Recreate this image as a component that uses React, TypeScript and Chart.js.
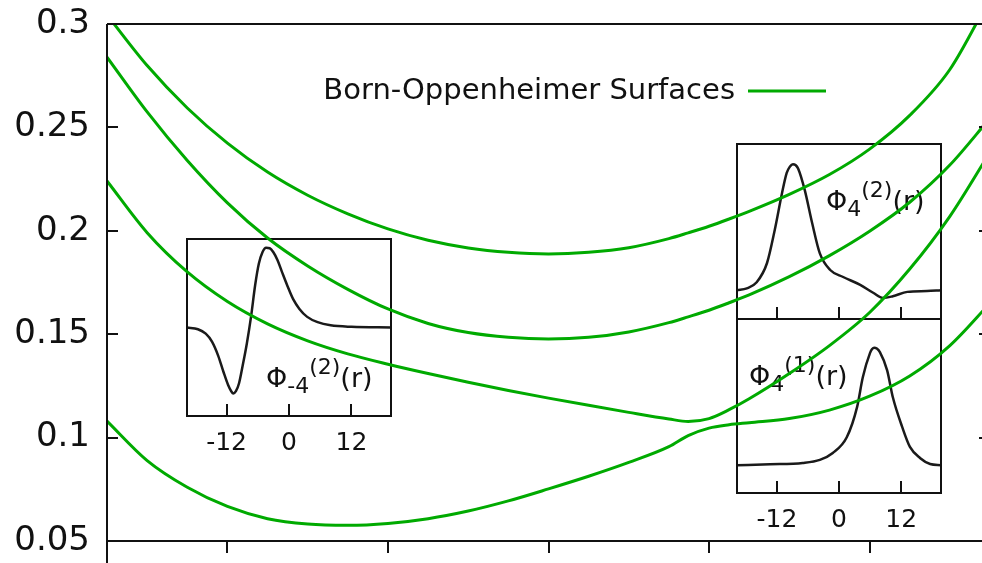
import React, { useEffect, useRef } from 'react';
import { Chart, registerables } from 'chart.js';

Chart.register(...registerables);

const FONT = "'DejaVu Sans', Verdana, sans-serif";
const GREEN = '#00aa00';
const INK = '#111111';

// Nuclear separation grid shared by the four adiabatic surfaces
const separation = [1.25, 1.5, 1.75, 2, 2.25, 2.5, 2.75, 3, 3.25, 3.5, 3.75, 4, 4.25, 4.5, 4.75, 4.87, 5, 5.125, 5.25, 5.5, 5.75, 6, 6.25, 6.5, 6.75];

const surface1 = [0.3044, 0.2799, 0.2594, 0.2424, 0.2284, 0.2172, 0.2082, 0.2009, 0.1954, 0.1917, 0.1896, 0.1888, 0.1896, 0.1918, 0.1962, 0.199, 0.2022, 0.2057, 0.2094, 0.2176, 0.2272, 0.2395, 0.2558, 0.278, 0.3125];
const surface2 = [0.284, 0.2575, 0.234, 0.2135, 0.1965, 0.183, 0.1717, 0.1622, 0.1552, 0.1508, 0.1485, 0.1477, 0.1485, 0.1511, 0.1556, 0.1584, 0.1616, 0.1652, 0.169, 0.1778, 0.188, 0.1998, 0.2138, 0.2318, 0.2545];
const surface3 = [0.2241, 0.1991, 0.1801, 0.1658, 0.155, 0.1468, 0.1405, 0.1355, 0.131, 0.1268, 0.1228, 0.1191, 0.1156, 0.1122, 0.109, 0.1078, 0.1092, 0.1135, 0.1188, 0.131, 0.1445, 0.1605, 0.1815, 0.207, 0.238];
const surface4 = [0.108, 0.0889, 0.076, 0.0667, 0.0608, 0.0582, 0.0576, 0.0585, 0.0608, 0.0645, 0.0694, 0.0752, 0.0813, 0.088, 0.0956, 0.101, 0.1046, 0.1062, 0.1072, 0.1092, 0.1133, 0.12, 0.1298, 0.1445, 0.165];

const yTickValues = [0.05, 0.1, 0.15, 0.2, 0.25, 0.3];
const yTickLabels = ['0.05', '0.1', '0.15', '0.2', '0.25', '0.3'];
const xTickValues = [2, 3, 4, 5, 6];
const legendLabel = 'Born-Oppenheimer Surfaces';

// Electronic wavefunctions along r for the three inset panels
const rPhiMinus4b = [-19.6, -17.5, -16, -14.8, -13.6, -12.6, -11.7, -11.1, -10.7, -10.2, -9.6, -8.9, -8.1, -7.3, -6.5, -5.8, -5.1, -4.4, -3.7, -3.0, -2.2, -1.3, -0.3, 0.8, 2.0, 3.5, 5.5, 8, 12, 19.6];
const phiMinus4b = [0, -0.02, -0.07, -0.16, -0.32, -0.5, -0.65, -0.72, -0.745, -0.72, -0.63, -0.43, -0.18, 0.12, 0.48, 0.72, 0.85, 0.9, 0.895, 0.85, 0.76, 0.62, 0.47, 0.32, 0.21, 0.12, 0.06, 0.025, 0.008, 0];

const rPhi4b = [-19.7, -17.8, -15.9, -13.9, -12.4, -11.0, -10.1, -9.5, -8.9, -8.4, -7.9, -6.6, -5.2, -3.7, -1.7, 0.8, 4.1, 6.6, 8.5, 10.4, 13.2, 17.0, 19.7];
const phi4b = [-0.67, -0.65, -0.58, -0.36, 0.02, 0.44, 0.67, 0.74, 0.77, 0.76, 0.72, 0.47, 0.1, -0.25, -0.44, -0.52, -0.61, -0.7, -0.76, -0.74, -0.69, -0.68, -0.67];

const rPhi4a = [-19.7, -13.3, -7.0, -3.7, -1.2, 1.5, 3.5, 4.6, 6.0, 6.4, 6.8, 7.3, 7.9, 9.3, 10.4, 12.2, 13.7, 15.7, 17.6, 19.7];
const phi4a = [-0.68, -0.67, -0.655, -0.62, -0.54, -0.36, -0.01, 0.33, 0.61, 0.655, 0.67, 0.66, 0.62, 0.41, 0.1, -0.24, -0.47, -0.6, -0.667, -0.68];

const insetTicks = [-12, 0, 12];
const insetTickLabels = ['-12', '0', '12'];

const toPoints = (xs: number[], ys: number[]) => xs.map((x, i) => ({ x, y: ys[i] }));

const mainFrame = {
  id: 'mainFrame',
  afterDraw(chart: any) {
    const { ctx, chartArea, scales } = chart;
    const { left, right, top, bottom } = chartArea;
    ctx.save();
    ctx.strokeStyle = INK;
    ctx.lineWidth = 2;
    ctx.beginPath();
    ctx.moveTo(left, top);
    ctx.lineTo(right, top);
    ctx.moveTo(left, bottom);
    ctx.lineTo(right, bottom);
    ctx.moveTo(left, top);
    ctx.lineTo(left, chart.height);
    ctx.moveTo(right, top);
    ctx.lineTo(right, bottom);
    for (const v of yTickValues) {
      const y = Math.round(scales.y.getPixelForValue(v));
      ctx.moveTo(left, y);
      ctx.lineTo(left + 11, y);
      ctx.moveTo(right - 11, y);
      ctx.lineTo(right, y);
    }
    for (const v of xTickValues) {
      const x = Math.round(scales.x.getPixelForValue(v));
      ctx.moveTo(x, bottom);
      ctx.lineTo(x, bottom + 12);
    }
    ctx.stroke();

    // key
    ctx.font = `29px ${FONT}`;
    ctx.fillStyle = INK;
    ctx.textAlign = 'right';
    ctx.textBaseline = 'middle';
    ctx.fillText(chart.data.datasets[0].label, 735, 91);
    ctx.strokeStyle = GREEN;
    ctx.lineWidth = 3;
    ctx.beginPath();
    ctx.moveTo(748, 91);
    ctx.lineTo(826, 91);
    ctx.stroke();
    ctx.restore();
  },
};

function MainPanel() {
  const ref = useRef<HTMLCanvasElement>(null);
  useEffect(() => {
    const surfaces = [surface1, surface2, surface3, surface4];
    const chart = new Chart(ref.current as HTMLCanvasElement, {
      type: 'line',
      data: {
        datasets: surfaces.map((s) => ({
          label: legendLabel,
          data: toPoints(separation, s),
          borderColor: GREEN,
          borderWidth: 3,
          pointRadius: 0,
          fill: false,
          cubicInterpolationMode: 'monotone' as const,
        })),
      },
      options: {
        animation: false,
        responsive: false,
        devicePixelRatio: 1,
        events: [],
        layout: { padding: { left: 0, top: 24, right: 10, bottom: 22 } },
        plugins: { legend: { display: false }, tooltip: { enabled: false } },
        scales: {
          x: { type: 'linear', min: 1.25, max: 6.75, display: false },
          y: {
            type: 'linear',
            min: 0.05,
            max: 0.3,
            afterBuildTicks(scale: any) {
              scale.ticks = yTickValues.map((value) => ({ value }));
            },
            afterFit(scale: any) {
              scale.width = 107;
              scale.paddingTop = 0;
              scale.paddingBottom = 0;
            },
            grid: { display: false, drawTicks: false },
            border: { display: false },
            ticks: {
              padding: 17,
              color: INK,
              font: { family: FONT, size: 34 },
              callback: (v: any) => {
                const i = yTickValues.findIndex((t) => Math.abs(t - Number(v)) < 1e-9);
                return i >= 0 ? yTickLabels[i] : '';
              },
            },
          },
        },
      },
      plugins: [mainFrame],
    } as any);
    return () => chart.destroy();
  }, []);
  return (
    <canvas
      ref={ref}
      width={1000}
      height={563}
      style={{ position: 'absolute', left: 0, top: 0, width: 1000, height: 563, zIndex: 2 }}
    />
  );
}

type InsetProps = {
  box: { left: number; top: number; width: number; height: number };
  r: number[];
  psi: number[];
  range: number;
  sub: string;
  sup: string;
  labelAt: { x: number; y: number };
  tickLabels: boolean;
};

const PAD_X = 24;
const PAD_TOP = 4;
const PAD_BOTTOM = 50;

function Inset({ box, r, psi, range, sub, sup, labelAt, tickLabels }: InsetProps) {
  const ref = useRef<HTMLCanvasElement>(null);
  useEffect(() => {
    const frame = {
      id: 'insetFrame',
      afterDraw(chart: any) {
        const { ctx, chartArea, scales } = chart;
        const { left, right, top, bottom } = chartArea;
        ctx.save();
        ctx.strokeStyle = INK;
        ctx.lineWidth = 2;
        ctx.strokeRect(left, top, right - left, bottom - top);
        ctx.beginPath();
        for (const v of insetTicks) {
          const x = Math.round(scales.x.getPixelForValue(v));
          ctx.moveTo(x, bottom);
          ctx.lineTo(x, bottom - 12);
        }
        ctx.stroke();
        ctx.fillStyle = INK;
        if (tickLabels) {
          ctx.font = `25px ${FONT}`;
          ctx.textAlign = 'center';
          ctx.textBaseline = 'middle';
          insetTicks.forEach((v, i) => {
            ctx.fillText(insetTickLabels[i], scales.x.getPixelForValue(v), bottom + 27);
          });
        }
        // Φ label: sub- and superscript set one after the other
        let x = left + labelAt.x;
        const base = top + labelAt.y;
        ctx.textAlign = 'left';
        ctx.textBaseline = 'alphabetic';
        const part = (t: string, size: number, dy: number) => {
          ctx.font = `${size}px ${FONT}`;
          ctx.fillText(t, x, base + dy);
          x += ctx.measureText(t).width;
        };
        part('Φ', 27, 0);
        part(sub, 22, 6);
        part(sup, 22, -13);
        part('(r)', 27, 0);
        ctx.restore();
      },
    };
    const chart = new Chart(ref.current as HTMLCanvasElement, {
      type: 'line',
      data: {
        datasets: [
          {
            data: toPoints(r, psi),
            borderColor: '#1a1a1a',
            borderWidth: 2.5,
            pointRadius: 0,
            fill: false,
            cubicInterpolationMode: 'monotone' as const,
          },
        ],
      },
      options: {
        animation: false,
        responsive: false,
        devicePixelRatio: 1,
        events: [],
        layout: { padding: { left: PAD_X, right: PAD_X, top: PAD_TOP, bottom: PAD_BOTTOM } },
        plugins: { legend: { display: false }, tooltip: { enabled: false } },
        scales: {
          x: { type: 'linear', min: -range, max: range, display: false },
          y: { type: 'linear', min: -1, max: 1, display: false },
        },
      },
      plugins: [frame],
    } as any);
    return () => chart.destroy();
  }, []);
  const w = box.width + 2 * PAD_X;
  const h = box.height + PAD_TOP + PAD_BOTTOM;
  return (
    <canvas
      ref={ref}
      width={w}
      height={h}
      style={{ position: 'absolute', left: box.left - PAD_X, top: box.top - PAD_TOP, width: w, height: h, zIndex: 1 }}
    />
  );
}

export default function App() {
  return (
    <div
      style={{
        position: 'fixed',
        left: 0,
        top: 0,
        width: 982,
        height: 563,
        overflow: 'hidden',
        background: '#ffffff',
      }}
    >
      <Inset
        box={{ left: 187, top: 239, width: 204, height: 177 }}
        r={rPhiMinus4b}
        psi={phiMinus4b}
        range={19.6}
        sub="-4"
        sup="(2)"
        labelAt={{ x: 79, y: 148 }}
        tickLabels
      />
      <Inset
        box={{ left: 737, top: 144, width: 204, height: 175 }}
        r={rPhi4b}
        psi={phi4b}
        range={19.7}
        sub="4"
        sup="(2)"
        labelAt={{ x: 89, y: 66 }}
        tickLabels={false}
      />
      <Inset
        box={{ left: 737, top: 319, width: 204, height: 174 }}
        r={rPhi4a}
        psi={phi4a}
        range={19.7}
        sub="4"
        sup="(1)"
        labelAt={{ x: 12, y: 66 }}
        tickLabels
      />
      <MainPanel />
    </div>
  );
}
